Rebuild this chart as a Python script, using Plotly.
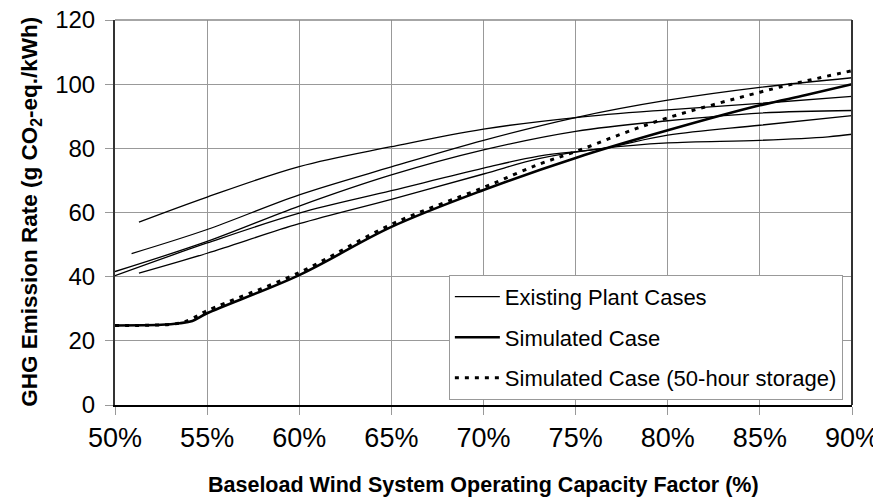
import plotly.graph_objects as go

# Existing plant cases (capacity factor %, g CO2-eq./kWh)
cf_a = [51.3, 55, 60, 65, 70, 75, 80, 85, 90]
ghg_a = [57.0, 64.8, 74.3, 80.5, 86.0, 89.6, 92.0, 94.0, 96.2]
cf_b = [50.9, 55, 60, 65, 70, 75, 80, 85, 90]
ghg_b = [47.2, 54.7, 65.5, 74.2, 82.5, 89.6, 95.0, 99.0, 102.0]
cf_c = [50, 55, 60, 65, 70, 75, 80, 85, 90]
ghg_c = [41.6, 51.0, 62.0, 71.7, 79.5, 85.3, 88.6, 91.0, 91.8]
cf_d = [50, 55, 60, 65, 70, 73, 76.5, 80, 85, 90]
ghg_d = [40.3, 50.5, 59.8, 66.8, 73.8, 77.6, 80.0, 84.1, 87.2, 90.2]
cf_e = [51.3, 55, 60, 65, 70, 73, 76.5, 80, 85, 88.7, 90]
ghg_e = [41.1, 47.3, 56.5, 64.1, 72.0, 76.8, 80.0, 81.7, 82.5, 83.6, 84.4]

# Simulated case
cf_sim = [50, 52.5, 53.5, 54.2, 55, 60, 65, 70, 75, 80, 85, 87.5, 90]
ghg_sim = [24.8, 25.0, 25.5, 26.2, 28.6, 40.5, 55.5, 67.0, 77.0, 85.6, 93.4, 96.6, 100.0]

# Simulated case with 50-hour storage
cf_sto = [50, 53.5, 54.2, 55, 60, 65, 70, 73, 75, 77.5, 80, 85, 87.5, 90]
ghg_sto = [24.8, 25.5, 27.0, 29.4, 41.3, 56.3, 67.8, 75.0, 79.0, 84.5, 89.5, 97.5, 101.0, 104.2]

x_ticks = [50, 55, 60, 65, 70, 75, 80, 85, 90]
x_labels = ["50%", "55%", "60%", "65%", "70%", "75%", "80%", "85%", "90%"]
y_ticks = [0, 20, 40, 60, 80, 100, 120]

FONT = "Liberation Sans, Arial, sans-serif"

fig = go.Figure()
existing = [(cf_a, ghg_a), (cf_b, ghg_b), (cf_c, ghg_c), (cf_d, ghg_d), (cf_e, ghg_e)]
for i, (xs, ys) in enumerate(existing):
    fig.add_trace(go.Scatter(
        x=xs, y=ys, mode="lines", line=dict(color="black", width=1.3),
        name="Existing Plant Cases", legendgroup="existing",
        showlegend=(i == 0), line_shape="spline", hoverinfo="skip"))

fig.add_trace(go.Scatter(
    x=cf_sim, y=ghg_sim, mode="lines", line=dict(color="black", width=2.6),
    name="Simulated Case", legendgroup="sim", line_shape="spline"))
fig.add_trace(go.Scatter(
    x=cf_sto, y=ghg_sto, mode="lines",
    line=dict(color="black", width=3, dash="4px,6px"),
    name="Simulated Case (50-hour storage)", legendgroup="sto", line_shape="spline"))

# page body adds an 8px offset, so the figure is sized/margined to compensate
fig.update_layout(
    width=873, height=490,
    margin=dict(l=107, r=29, t=12, b=92.5, autoexpand=False),
    paper_bgcolor="white", plot_bgcolor="white",
    font=dict(family=FONT, color="black"),
    showlegend=True,
    legend=dict(x=0.453, y=0.338, xanchor="left", yanchor="top",
                bgcolor="white", bordercolor="#999999", borderwidth=1,
                font=dict(size=22, family=FONT), itemwidth=45,
                tracegroupgap=9, traceorder="grouped"),
    xaxis=dict(range=[50, 90], tickvals=x_ticks, ticktext=x_labels,
               showgrid=True, gridcolor="#999999", gridwidth=1,
               showline=True, linecolor="black", linewidth=2,
               ticks="outside", ticklen=8, tickcolor="#999999",
               automargin=False, ticklabeloverflow="allow",
               tickfont=dict(size=27, family=FONT), zeroline=False),
    yaxis=dict(range=[0, 120], tickvals=y_ticks,
               showgrid=True, gridcolor="#999999", gridwidth=1,
               showline=True, linecolor="#333333", linewidth=2,
               ticks="outside", ticklen=8, tickcolor="#999999",
               ticklabelstandoff=5, automargin=False, ticklabeloverflow="allow",
               tickfont=dict(size=24, family=FONT), zeroline=False),
    annotations=[
        dict(text="<b>Baseload Wind System Operating Capacity Factor (%)</b>",
             xref="paper", yref="paper", x=0.5, y=-0.207,
             xanchor="center", yanchor="middle", showarrow=False,
             font=dict(size=21.5, family=FONT, color="black"), textangle=0),
        dict(text="<b>GHG Emission Rate (g CO<sub>2</sub>-eq./kWh)</b>",
             xref="paper", yref="paper", x=-0.114, y=0.502,
             xanchor="center", yanchor="middle", showarrow=False,
             font=dict(size=22.5, family=FONT, color="black"), textangle=-90),
    ],
    shapes=[
        dict(type="line", xref="paper", yref="paper", x0=0, x1=1, y0=1, y1=1,
             line=dict(color="#888888", width=1.5)),
        dict(type="line", xref="paper", yref="paper", x0=1, x1=1, y0=0, y1=1,
             line=dict(color="#333333", width=2)),
    ],
)

fig.write_html("out.html")
